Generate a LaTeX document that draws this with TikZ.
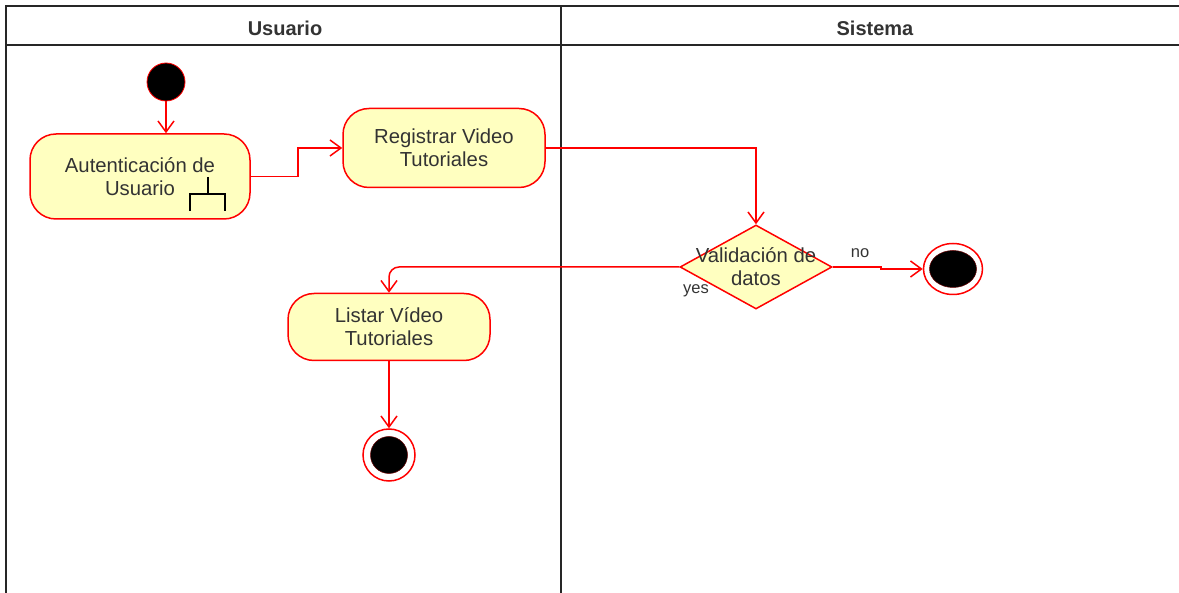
\documentclass[tikz,border=0pt]{standalone}
\usepackage{fontspec}
\setmainfont{Liberation Sans}
\usetikzlibrary{shapes.geometric,arrows.meta}
\definecolor{umlfill}{HTML}{FFFFC0}
\definecolor{umlred}{HTML}{FF0000}
\definecolor{umltext}{HTML}{333333}
\tikzset{
  accion/.style={draw=umlred,fill=umlfill,line width=1.5pt,rounded corners=26pt,
    align=center,text=umltext,font=\fontsize{20.3}{23}\selectfont},
  decision/.style={diamond,draw=umlred,fill=umlfill,line width=1.5pt,inner sep=0pt,
    minimum width=152pt,minimum height=84pt},
  inicio/.style={circle,draw=umlred,fill=black,line width=0.8pt,minimum size=38pt,inner sep=0pt},
  fin/.style={ellipse,draw=umlred,fill=white,line width=1.5pt,inner sep=0pt},
  nucleo/.style={ellipse,fill=black,draw=umlred!40!black,line width=0.5pt,inner sep=0pt},
  flujo/.style={draw=umlred,line width=1.5pt,-{Straight Barb[length=11pt,width=16pt]}},
  carril/.style={draw=black!85,line width=1.5pt},
  etiqueta/.style={align=center,text=umltext,font=\fontsize{16.5}{19}\selectfont},
  titulo/.style={text=umltext,font=\fontsize{20}{23}\selectfont\bfseries}
}
\begin{document}
\begin{tikzpicture}[x=1pt,y=-1pt]
\useasboundingbox (0,0) rectangle (1179,593);
% carriles
\draw[carril] (6,593) -- (6,6) -- (1179,6);
\draw[carril] (6,45) -- (1179,45);
\draw[carril] (561,6) -- (561,593);
\node[titulo] (tusu) at (285,28) {Usuario};
\node[titulo] (tsis) at (875,28) {Sistema};
% nodos
\node[inicio] (ini) at (166,82) {};
\node[accion,minimum width=220pt,minimum height=85pt] (aut) at (140,176.5) {Autenticación de\\Usuario};
\draw[black,line width=1.3pt] (208,177) -- (208,194) (190,211) -- (190,194) -- (225,194) -- (225,211);
\node[accion,minimum width=202pt,minimum height=79pt] (reg) at (444,148) {Registrar Video\\Tutoriales};
\node[decision] (dec) at (756,267) {};
\node[etiqueta,font=\fontsize{20.3}{23}\selectfont] (dect) at (dec) {Validación de\\datos};
\node[fin,minimum width=59pt,minimum height=51pt] (fin2) at (953,269) {};
\node[nucleo,minimum width=47pt,minimum height=37pt] (fin2n) at (fin2) {};
\node[accion,minimum width=202pt,minimum height=67pt] (lis) at (389,327) {Listar Vídeo\\Tutoriales};
\node[fin,minimum size=52pt] (fin1) at (389,455) {};
\node[nucleo,minimum size=37pt] (fin1n) at (fin1) {};
% flujos
\draw[flujo] (ini) -- (ini |- aut.north);
\draw[flujo] (aut.east) -- ++(47,0) |- (reg.west);
\draw[flujo] (reg.east) -| (dec.north);
\draw[flujo] (dec.east) -- ++(48,0) |- (fin2.west);
\node[etiqueta] (lno) at (860,253) {no};
\draw[flujo,rounded corners=10pt] (dec.west) -| (lis.north);
\node[etiqueta] (lyes) at (696,291) {yes};
\draw[flujo] (lis) -- (fin1);
\end{tikzpicture}
\end{document}
